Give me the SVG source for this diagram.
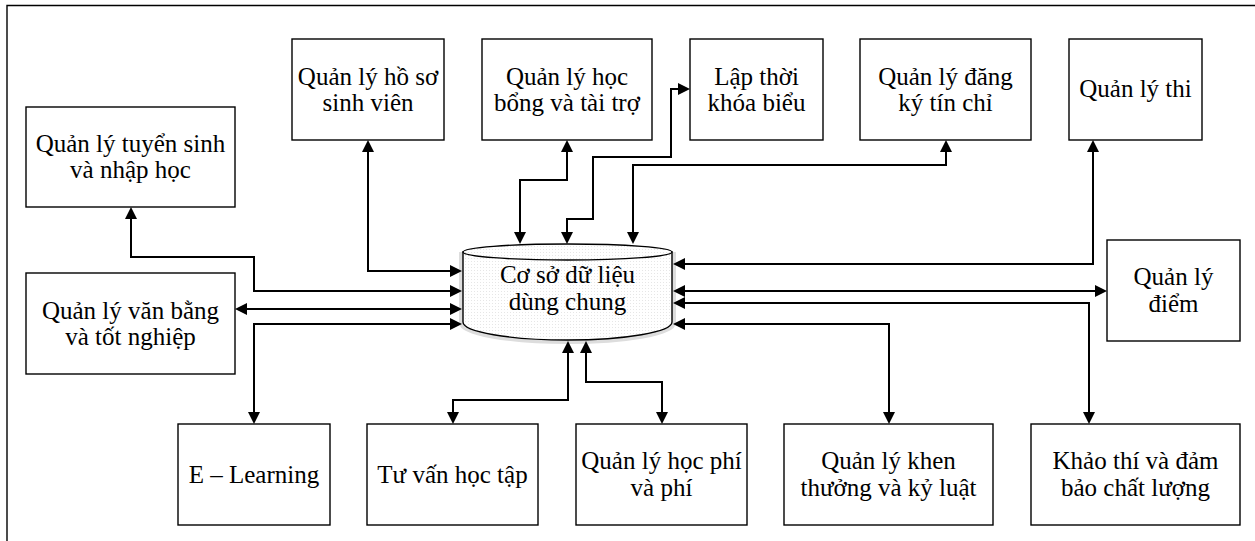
<svg xmlns="http://www.w3.org/2000/svg" width="1255" height="541" viewBox="0 0 1255 541">
<style>
.box{fill:#fff;stroke:#000;stroke-width:1.4}
.t{font-family:"Liberation Serif","Times New Roman",serif;font-size:25px;fill:#000;text-anchor:middle}
.c{fill:none;stroke:#000;stroke-width:2;marker-start:url(#ah);marker-end:url(#ah)}
.c1{fill:none;stroke:#000;stroke-width:2;marker-end:url(#ah)}
</style>
<defs>
<marker id="ah" markerUnits="userSpaceOnUse" markerWidth="12" markerHeight="12" refX="6" refY="6" orient="auto-start-reverse" viewBox="0 0 12 12">
<path d="M0,0 L12,6 L0,12 z" fill="#000"/>
</marker>
<pattern id="dots" width="3" height="3" patternUnits="userSpaceOnUse">
<rect width="3" height="3" fill="#fff"/>
<rect width="1" height="1" fill="#e6e6e6"/>
</pattern>
</defs>
<rect width="1255" height="541" fill="#fff"/>
<path d="M7,541 V5.5 H1255" fill="none" stroke="#000" stroke-width="1.4"/>

<g id="db">
<path d="M461,252 V323 A106.5,19 0 0 0 674,323 V252" fill="none" stroke="#ddd" stroke-width="4"/>
<path d="M463,252 V322 A104.5,18 0 0 0 672,322 V252 Z" fill="url(#dots)" stroke="#000" stroke-width="1.4"/>
<ellipse cx="567.5" cy="252" rx="104.5" ry="8" fill="url(#dots)" stroke="#000" stroke-width="1.4"/>
<text class="t" x="567.5" y="283">Cơ sở dữ liệu</text>
<text class="t" x="567.5" y="310">dùng chung</text>
</g>

<g id="tuyensinh"><rect class="box" x="26" y="107" width="209" height="100"/>
<text class="t" x="130.5" y="152">Quản lý tuyển sinh</text><text class="t" x="130.5" y="178">và nhập học</text></g>
<g id="vanbang"><rect class="box" x="26" y="273" width="209" height="101"/>
<text class="t" x="130.5" y="318.5">Quản lý văn bằng</text><text class="t" x="130.5" y="345">và tốt nghiệp</text></g>
<g id="hoso"><rect class="box" x="292" y="39" width="152" height="101"/>
<text class="t" x="368" y="84.5">Quản lý hồ sơ</text><text class="t" x="368" y="111">sinh viên</text></g>
<g id="hocbong"><rect class="box" x="482" y="39" width="170" height="101"/>
<text class="t" x="567" y="84.5">Quản lý học</text><text class="t" x="567" y="111">bổng và tài trợ</text></g>
<g id="lapthoi"><rect class="box" x="690" y="39" width="133" height="101"/>
<text class="t" x="756.5" y="84.5">Lập thời</text><text class="t" x="756.5" y="111">khóa biểu</text></g>
<g id="dangky"><rect class="box" x="860" y="39" width="171" height="101"/>
<text class="t" x="945.5" y="84.5">Quản lý đăng</text><text class="t" x="945.5" y="111">ký tín chỉ</text></g>
<g id="thi"><rect class="box" x="1069" y="39" width="133" height="101"/>
<text class="t" x="1135.5" y="97">Quản lý thi</text></g>
<g id="diem"><rect class="box" x="1107" y="240" width="133" height="101"/>
<text class="t" x="1173.5" y="285">Quản lý</text><text class="t" x="1173.5" y="311.5">điểm</text></g>
<g id="elearning"><rect class="box" x="178" y="424" width="152" height="101"/>
<text class="t" x="254" y="482.5">E – Learning</text></g>
<g id="tuvan"><rect class="box" x="367" y="424" width="171" height="101"/>
<text class="t" x="452.5" y="482.5">Tư vấn học tập</text></g>
<g id="hocphi"><rect class="box" x="576" y="424" width="171" height="101"/>
<text class="t" x="661.5" y="469">Quản lý học phí</text><text class="t" x="661.5" y="495.5">và phí</text></g>
<g id="khenthuong"><rect class="box" x="784" y="424" width="209" height="101"/>
<text class="t" x="888.5" y="469">Quản lý khen</text><text class="t" x="888.5" y="495.5">thưởng và kỷ luật</text></g>
<g id="khaothi"><rect class="box" x="1031" y="424" width="209" height="101"/>
<text class="t" x="1135.5" y="469">Khảo thí và đảm</text><text class="t" x="1135.5" y="495.5">bảo chất lượng</text></g>

<g id="connectors">
<path class="c" d="M368,146 V271 H456"/>
<path class="c" d="M131,213 V257 H254 V291 H456"/>
<path class="c" d="M241,309 H456"/>
<path class="c" d="M456,324 H254 V418"/>
<path class="c" d="M567,146 V180 H520 V238"/>
<path class="c" d="M567,238 V219 H593 V157 H671 V89 H684"/>
<path class="c" d="M633,238 V165 H946 V146"/>
<path class="c" d="M679,264 H1093 V146"/>
<path class="c" d="M679,291 H1101"/>
<path class="c" d="M679,303 H1089 V418"/>
<path class="c" d="M679,324 H889 V418"/>
<path class="c" d="M568,347 V400 H453 V418"/>
<path class="c" d="M586,347 V382 H662 V418"/>
</g>
</svg>
